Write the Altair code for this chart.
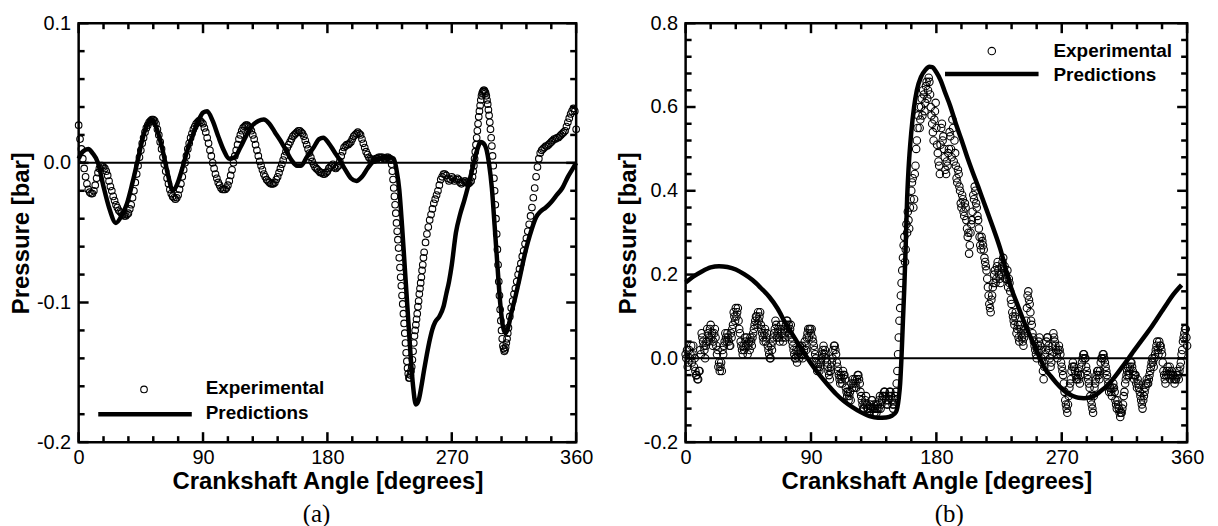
import altair as alt
import pandas as pd

# ---------------- data ----------------
# Panel (a): experimental, one reading per degree 0..360
ANG_A_EXP = list(range(0, 361))
P_A_EXP = [0.027, 0.017, 0.010, 0.003, -0.004, -0.010, -0.015, -0.019, -0.021, -0.022,
           -0.022, -0.020, -0.016, -0.011, -0.007, -0.004, -0.002, -0.002, -0.003, -0.004,
           -0.006, -0.009, -0.013, -0.017, -0.020, -0.024, -0.027, -0.030, -0.032, -0.034,
           -0.035, -0.036, -0.037, -0.038, -0.038, -0.037, -0.036, -0.033, -0.030, -0.025,
           -0.020, -0.014, -0.008, -0.002, 0.004, 0.009, 0.014, 0.018, 0.022, 0.025,
           0.027, 0.029, 0.030, 0.031, 0.031, 0.030, 0.028, 0.024, 0.020, 0.015,
           0.010, 0.004, -0.001, -0.006, -0.011, -0.015, -0.019, -0.022, -0.024, -0.025,
           -0.026, -0.025, -0.023, -0.019, -0.015, -0.010, -0.005, 0.000, 0.005, 0.010,
           0.014, 0.018, 0.021, 0.024, 0.026, 0.028, 0.029, 0.030, 0.030, 0.029,
           0.028, 0.025, 0.022, 0.018, 0.014, 0.009, 0.005, 0.000, -0.004, -0.008,
           -0.011, -0.014, -0.016, -0.018, -0.019, -0.019, -0.019, -0.018, -0.016, -0.013,
           -0.009, -0.005, 0.000, 0.005, 0.009, 0.013, 0.017, 0.020, 0.023, 0.025,
           0.026, 0.027, 0.027, 0.026, 0.025, 0.023, 0.020, 0.017, 0.013, 0.009,
           0.005, 0.001, -0.002, -0.005, -0.008, -0.010, -0.012, -0.013, -0.014, -0.015,
           -0.015, -0.015, -0.014, -0.012, -0.010, -0.007, -0.004, -0.001, 0.002, 0.005,
           0.008, 0.011, 0.013, 0.015, 0.017, 0.019, 0.020, 0.021, 0.022, 0.023,
           0.023, 0.022, 0.021, 0.019, 0.016, 0.013, 0.010, 0.007, 0.004, 0.001,
           -0.001, -0.003, -0.004, -0.005, -0.006, -0.007, -0.007, -0.008, -0.008, -0.007,
           -0.006, -0.004, -0.003, -0.002, -0.001, -0.003, -0.004, -0.003, -0.002, 0.001,
           0.005, 0.008, 0.011, 0.012, 0.013, 0.013, 0.014, 0.015, 0.017, 0.019,
           0.020, 0.021, 0.022, 0.021, 0.020, 0.017, 0.014, 0.011, 0.008, 0.006,
           0.004, 0.003, 0.002, 0.002, 0.002, 0.003, 0.003, 0.004, 0.004, 0.004,
           0.004, 0.003, 0.003, 0.004, 0.004, 0.003, 0.002, -0.006, -0.018, -0.030,
           -0.043, -0.055, -0.068, -0.082, -0.095, -0.108, -0.122, -0.136, -0.147, -0.154,
           -0.152, -0.146, -0.135, -0.124, -0.116, -0.108, -0.099, -0.090, -0.082, -0.073,
           -0.064, -0.057, -0.051, -0.046, -0.041, -0.037, -0.033, -0.029, -0.026, -0.023,
           -0.020, -0.016, -0.012, -0.010, -0.008, -0.008, -0.009, -0.011, -0.013, -0.012,
           -0.010, -0.011, -0.013, -0.012, -0.011, -0.012, -0.014, -0.015, -0.014, -0.013,
           -0.013, -0.014, -0.015, -0.014, -0.013, -0.010, -0.002, 0.008, 0.018, 0.028,
           0.037, 0.045, 0.050, 0.052, 0.051, 0.048, 0.042, 0.034, 0.024, 0.012,
           -0.002, -0.020, -0.040, -0.062, -0.085, -0.105, -0.120, -0.131, -0.135, -0.132,
           -0.126, -0.118, -0.110, -0.104, -0.099, -0.094, -0.090, -0.085, -0.080, -0.076,
           -0.072, -0.067, -0.063, -0.058, -0.054, -0.049, -0.044, -0.038, -0.032, -0.025,
           -0.018, -0.010, -0.003, 0.003, 0.007, 0.009, 0.010, 0.011, 0.012, 0.012,
           0.013, 0.014, 0.015, 0.016, 0.017, 0.017, 0.018, 0.018, 0.019, 0.020,
           0.021, 0.022, 0.023, 0.026, 0.029, 0.032, 0.035, 0.037, 0.039, 0.037,
           0.024]
# Panel (a): extra circles read on the steep flanks (half-degree positions)
ANG_A_EXP2 = [226.5, 227.5, 228.5, 229.5, 230.5, 231.5, 232.5, 233.5, 234.5, 235.5, 236.5,
              237.5, 238.5, 239.5, 240.5, 241.5, 242.5, 243.5, 244.5, 245.5, 246.5, 247.5,
              248.5, 249.5,
              285.5, 286.5, 287.5, 288.5, 289.5, 290.5, 291.5, 292.5, 293.5, 294.5, 295.5,
              296.5, 297.5, 298.5, 299.5, 300.5, 301.5, 302.5, 303.5, 304.5, 305.5, 306.5,
              307.5, 308.5, 309.5, 310.5]
P_A_EXP2 = [-0.001, -0.012, -0.024, -0.036, -0.049, -0.061, -0.075, -0.088, -0.101, -0.115,
            -0.129, -0.142, -0.151, -0.154, -0.149, -0.141, -0.129, -0.120, -0.112, -0.103,
            -0.094, -0.086, -0.077, -0.068,
            -0.006, 0.003, 0.013, 0.023, 0.033, 0.041, 0.048, 0.051, 0.052, 0.050, 0.045,
            0.038, 0.029, 0.018, 0.005, -0.011, -0.030, -0.051, -0.073, -0.095, -0.113,
            -0.126, -0.133, -0.134, -0.129, -0.122]

# Panel (a): predictions
ANG_A_PRED = [0, 3, 7, 10, 14, 18, 22, 27, 31, 35, 39, 43, 47, 50, 53, 57, 61, 65, 68, 71,
              75, 79, 83, 87, 90, 93, 97, 101, 105, 109, 113, 117, 121, 125, 130, 134, 138,
              142, 146, 150, 154, 158, 161, 165, 170, 174, 177, 181, 185, 189, 193, 197, 201,
              205, 209, 213, 217, 221, 225, 228, 230, 232, 234, 236, 238, 240, 242, 244, 246,
              248, 250, 252, 254, 256, 258, 261, 264, 266, 268, 270, 273, 276, 279, 282, 285,
              288, 291, 293, 295, 297, 299, 301, 303, 305, 307, 309, 311, 313, 316, 319, 322,
              325, 328, 331, 334, 338, 342, 346, 350, 354, 357, 360]
P_A_PRED = [0.003, 0.008, 0.010, 0.007, 0.000, -0.017, -0.032, -0.043, -0.038, -0.029,
            -0.014, 0.003, 0.020, 0.028, 0.031, 0.023, 0.008, -0.010, -0.020, -0.016,
            -0.004, 0.010, 0.021, 0.031, 0.036, 0.037, 0.030, 0.019, 0.009, 0.003,
            0.004, 0.011, 0.019, 0.026, 0.030, 0.031, 0.028, 0.022, 0.016, 0.009,
            0.002, -0.002, -0.002, 0.004, 0.011, 0.017, 0.018, 0.014, 0.008, 0.002,
            -0.005, -0.011, -0.013, -0.010, -0.004, 0.001, 0.003, 0.004, 0.004, 0.003,
            -0.005, -0.019, -0.045, -0.075, -0.105, -0.135, -0.160, -0.173, -0.170, -0.160,
            -0.148, -0.137, -0.127, -0.119, -0.114, -0.110, -0.103, -0.094, -0.085, -0.073,
            -0.050, -0.037, -0.027, -0.016, -0.004, 0.008, 0.015, 0.014, 0.010, -0.001,
            -0.018, -0.045, -0.073, -0.100, -0.117, -0.122, -0.117, -0.108, -0.096, -0.083,
            -0.069, -0.057, -0.047, -0.039, -0.035, -0.032, -0.028, -0.023, -0.018, -0.010,
            -0.005, 0.000]

# Panel (b): experimental, one reading per degree 0..360
ANG_B_EXP = list(range(0, 361))
P_B_EXP = [0.01, 0.02, -0.01, 0.00, 0.03, 0.01, -0.02, -0.03, -0.04, -0.05,
           -0.03, 0.01, 0.05, 0.03, 0.00, 0.04, 0.06, 0.05, 0.08, 0.06,
           0.04, 0.07, 0.03, 0.02, -0.01, -0.02, -0.03, 0.01, 0.04, 0.05,
           0.06, 0.04, 0.03, 0.05, 0.08, 0.10, 0.12, 0.11, 0.09, 0.06,
           0.03, 0.01, 0.02, 0.04, 0.05, 0.03, 0.02, 0.04, 0.05, 0.07,
           0.09, 0.10, 0.11, 0.10, 0.08, 0.06, 0.04, 0.07, 0.05, 0.03,
           0.01, 0.00, 0.02, 0.05, 0.07, 0.08, 0.06, 0.05, 0.07, 0.06,
           0.04, 0.06, 0.08, 0.09, 0.08, 0.07, 0.05, 0.03, 0.01, 0.00,
           -0.01, 0.02, 0.03, 0.01, 0.00, 0.02, 0.03, 0.05, 0.07, 0.07,
           0.06, 0.05, 0.03, 0.01, -0.01, -0.02, -0.03, -0.01, 0.01, 0.03,
           0.02, 0.00, -0.02, -0.04, -0.03, -0.01, 0.02, 0.03, 0.01, -0.02,
           -0.04, -0.06, -0.05, -0.03, -0.04, -0.07, -0.09, -0.10, -0.08, -0.06,
           -0.05, -0.07, -0.06, -0.05, -0.04, -0.06, -0.09, -0.11, -0.12, -0.10,
           -0.11, -0.12, -0.13, -0.12, -0.10, -0.11, -0.12, -0.13, -0.11, -0.10,
           -0.12, -0.10, -0.09, -0.08, -0.10, -0.11, -0.09, -0.08, -0.10, -0.12,
           -0.10, -0.08, -0.03, 0.05, 0.12, 0.18, 0.24, 0.29, 0.26, 0.30,
           0.33, 0.36, 0.40, 0.43, 0.38, 0.46, 0.52, 0.58, 0.55, 0.60,
           0.58, 0.63, 0.61, 0.66, 0.64, 0.66, 0.60, 0.56, 0.52, 0.59,
           0.55, 0.49, 0.46, 0.51, 0.56, 0.53, 0.48, 0.44, 0.46, 0.50,
           0.53, 0.48, 0.55, 0.52, 0.46, 0.42, 0.44, 0.40, 0.36, 0.38,
           0.34, 0.36, 0.31, 0.30, 0.27, 0.32, 0.35, 0.38, 0.40, 0.36,
           0.33, 0.29, 0.26, 0.28, 0.26, 0.23, 0.21, 0.17, 0.13, 0.11,
           0.15, 0.18, 0.21, 0.19, 0.23, 0.20, 0.18, 0.22, 0.24, 0.22,
           0.20, 0.21, 0.19, 0.16, 0.13, 0.10, 0.08, 0.11, 0.07, 0.05,
           0.08, 0.06, 0.04, 0.05, 0.07, 0.12, 0.16, 0.13, 0.09, 0.06,
           0.04, 0.02, 0.00, 0.03, 0.05, 0.02, -0.01, -0.05, 0.01, 0.04,
           0.05, 0.02, -0.02, 0.01, 0.06, 0.04, 0.02, 0.00, 0.03, 0.01,
           -0.02, -0.04, -0.08, -0.11, -0.13, -0.09, -0.06, -0.03, -0.01, -0.02,
           -0.04, -0.05, -0.03, -0.06, -0.02, 0.00, 0.01, 0.00, -0.03, -0.05,
           -0.07, -0.10, -0.12, -0.09, -0.06, -0.04, -0.03, -0.05, -0.01, 0.00,
           0.01, -0.01, -0.03, -0.05, -0.08, -0.07, -0.09, -0.06, -0.08, -0.11,
           -0.10, -0.12, -0.14, -0.13, -0.11, -0.08, -0.05, -0.03, -0.04, -0.02,
           -0.01, -0.03, -0.05, -0.04, -0.07, -0.06, -0.08, -0.10, -0.12, -0.09,
           -0.07, -0.05, -0.06, -0.04, -0.02, 0.00, -0.02, 0.01, 0.03, 0.02,
           0.04, 0.03, 0.01, -0.03, -0.05, -0.04, -0.02, -0.03, -0.05, -0.03,
           -0.04, -0.06, -0.05, -0.03, -0.05, -0.02, 0.01, 0.04, 0.06, 0.07,
           0.03]
# Panel (b): second set of circles, half-degree positions 0.5..359.5
ANG_B_EXP2 = [i + 0.5 for i in range(360)]
P_B_EXP2 = [0.00, -0.02, 0.02, 0.01, -0.01, 0.03, 0.00, -0.04, -0.05, -0.03,
            0.02, 0.06, 0.04, 0.02, 0.03, 0.07, 0.04, 0.07, 0.05, 0.03,
            0.06, 0.05, 0.01, -0.02, -0.03, -0.01, 0.02, 0.03, 0.06, 0.04,
            0.05, 0.03, 0.06, 0.07, 0.11, 0.09, 0.10, 0.12, 0.07, 0.04,
            0.02, 0.03, 0.05, 0.03, 0.01, 0.04, 0.05, 0.03, 0.06, 0.08,
            0.10, 0.08, 0.09, 0.11, 0.07, 0.05, 0.06, 0.04, 0.06, 0.02,
            0.00, 0.03, 0.04, 0.06, 0.09, 0.05, 0.07, 0.04, 0.08, 0.05,
            0.07, 0.05, 0.09, 0.07, 0.06, 0.08, 0.04, 0.02, 0.00, 0.02,
            0.01, 0.00, 0.02, 0.03, 0.01, 0.04, 0.02, 0.06, 0.05, 0.07,
            0.07, 0.04, 0.02, 0.00, -0.03, -0.01, -0.02, 0.00, 0.02, 0.01,
            0.01, -0.01, -0.03, -0.05, -0.02, 0.00, 0.03, 0.02, -0.01, -0.03,
            -0.05, -0.04, -0.06, -0.04, -0.05, -0.08, -0.08, -0.09, -0.10, -0.07,
            -0.06, -0.05, -0.07, -0.04, -0.05, -0.08, -0.10, -0.12, -0.11, -0.09,
            -0.12, -0.13, -0.11, -0.10, -0.12, -0.13, -0.11, -0.12, -0.12, -0.09,
            -0.11, -0.09, -0.08, -0.09, -0.11, -0.10, -0.08, -0.09, -0.11, -0.11,
            -0.09, -0.06, 0.01, 0.09, 0.15, 0.21, 0.27, 0.23, 0.32, 0.35,
            0.31, 0.38, 0.42, 0.36, 0.44, 0.50, 0.55, 0.60, 0.57, 0.62,
            0.64, 0.59, 0.65, 0.62, 0.67, 0.63, 0.58, 0.54, 0.57, 0.61,
            0.51, 0.47, 0.44, 0.55, 0.52, 0.50, 0.45, 0.47, 0.49, 0.54,
            0.50, 0.57, 0.47, 0.49, 0.43, 0.45, 0.41, 0.37, 0.39, 0.35,
            0.37, 0.33, 0.29, 0.25, 0.30, 0.33, 0.39, 0.41, 0.37, 0.34,
            0.31, 0.27, 0.29, 0.27, 0.24, 0.22, 0.19, 0.15, 0.12, 0.14,
            0.17, 0.20, 0.18, 0.22, 0.21, 0.19, 0.20, 0.23, 0.21, 0.19,
            0.19, 0.17, 0.18, 0.14, 0.11, 0.09, 0.10, 0.06, 0.08, 0.04,
            0.07, 0.05, 0.03, 0.06, 0.09, 0.15, 0.14, 0.11, 0.08, 0.05,
            0.03, 0.01, 0.02, 0.04, 0.03, 0.00, -0.03, -0.02, 0.02, 0.05,
            0.03, 0.00, -0.01, 0.03, 0.05, 0.03, 0.01, 0.02, 0.02, -0.01,
            -0.03, -0.06, -0.10, -0.12, -0.11, -0.07, -0.05, -0.02, -0.02, -0.03,
            -0.05, -0.04, -0.05, -0.04, -0.01, 0.01, 0.00, -0.02, -0.04, -0.06,
            -0.09, -0.11, -0.13, -0.07, -0.05, -0.03, -0.04, -0.03, 0.00, 0.01,
            0.00, -0.02, -0.04, -0.06, -0.07, -0.08, -0.07, -0.07, -0.10, -0.12,
            -0.11, -0.13, -0.13, -0.12, -0.09, -0.06, -0.04, -0.02, -0.03, -0.01,
            -0.02, -0.04, -0.04, -0.06, -0.05, -0.07, -0.09, -0.11, -0.10, -0.08,
            -0.06, -0.06, -0.05, -0.03, -0.01, -0.01, 0.00, 0.02, 0.04, 0.01,
            0.03, 0.02, -0.01, -0.04, -0.06, -0.03, -0.04, -0.02, -0.04, -0.04,
            -0.05, -0.05, -0.04, -0.04, -0.03, -0.01, 0.02, 0.05, 0.07, 0.05]

# Panel (b): predictions
ANG_B_PRED = [0, 6, 12, 18, 24, 30, 36, 42, 48, 54, 60, 66, 72, 78, 84, 90, 96, 102, 108,
              114, 120, 126, 132, 138, 144, 148, 151, 153, 154, 155, 156, 157, 158, 159, 160,
              162, 164, 166, 169, 172, 175, 177, 180, 183, 186, 190, 194, 198, 202, 206, 210,
              214, 218, 222, 226, 230, 234, 238, 242, 246, 250, 254, 258, 262, 266, 270, 274,
              278, 282, 286, 290, 294, 298, 302, 306, 310, 314, 318, 322, 326, 330, 334, 338,
              342, 346, 350, 354, 356]
P_B_PRED = [0.181, 0.196, 0.208, 0.217, 0.220, 0.218, 0.212, 0.201, 0.187, 0.168,
            0.147, 0.119, 0.082, 0.050, 0.018, -0.012, -0.039, -0.063, -0.085, -0.103,
            -0.117, -0.129, -0.138, -0.142, -0.141, -0.137, -0.128, -0.095, -0.060, 0.005,
            0.090, 0.170, 0.270, 0.380, 0.450, 0.540, 0.600, 0.640, 0.672, 0.688,
            0.696, 0.695, 0.683, 0.664, 0.637, 0.602, 0.560, 0.522, 0.482, 0.445,
            0.410, 0.373, 0.337, 0.300, 0.260, 0.210, 0.165, 0.130, 0.095, 0.063,
            0.033, 0.003, -0.025, -0.042, -0.058, -0.072, -0.083, -0.090, -0.094, -0.095,
            -0.093, -0.088, -0.078, -0.067, -0.053, -0.036, -0.018, 0.000, 0.019, 0.037,
            0.055, 0.073, 0.093, 0.113, 0.133, 0.152, 0.168, 0.175]

# Axes ticks
X_MAJOR = [0, 90, 180, 270, 360]
X_MINOR = [18, 36, 54, 72, 108, 126, 144, 162, 198, 216, 234, 252, 288, 306, 324, 342]
YA_MAJOR = [-0.2, -0.1, 0.0, 0.1]
YA_MINOR = [-0.18, -0.16, -0.14, -0.12, -0.08, -0.06, -0.04, -0.02, 0.02, 0.04, 0.06, 0.08]
YB_MAJOR = [-0.2, 0.0, 0.2, 0.4, 0.6, 0.8]
YB_MINOR = [-0.16, -0.12, -0.08, -0.04, 0.04, 0.08, 0.12, 0.16, 0.24, 0.28, 0.32, 0.36,
            0.44, 0.48, 0.52, 0.56, 0.64, 0.68, 0.72, 0.76]

LEGEND_LABELS = ["Experimental", "Predictions"]
X_TITLE = "Crankshaft Angle [degrees]"
Y_TITLE = "Pressure [bar]"
CAPTIONS = ["(a)", "(b)"]

SANS = "Liberation Sans"
SERIF = "Liberation Serif"
H = 421
LABEL_EXPR = "datum.value < 0 ? '-' + format(-datum.value, '.1f') : format(datum.value, '.1f')"


def make_panel(w, ang_exp, p_exp, ang_pred, p_pred, ydom, ymaj, ymin, pt_size,
               leg, caption, cap_dx):
    xs = alt.Scale(domain=[0, 360], nice=False, zero=False)
    ys = alt.Scale(domain=ydom, nice=False, zero=False)

    x_axis = alt.Axis(values=X_MAJOR, format="d", title=X_TITLE, grid=False, ticks=False,
                      domain=False, labelPadding=5, titlePadding=3, labelFlush=False,
                      labelOverlap=False, labelFont=SANS, labelFontSize=20,
                      labelColor="black", titleFont=SANS, titleFontSize=24,
                      titleFontWeight="bold", titleColor="black")
    y_axis = alt.Axis(values=ymaj, labelExpr=LABEL_EXPR, title=Y_TITLE, grid=False,
                      ticks=False, domain=False, labelPadding=8, titlePadding=3,
                      labelFlush=False, labelOverlap=False, labelFont=SANS,
                      labelFontSize=20, labelColor="black", titleFont=SANS,
                      titleFontSize=24, titleFontWeight="bold", titleColor="black")

    X = lambda f: alt.X(f, scale=xs, axis=x_axis)
    Y = lambda f: alt.Y(f, scale=ys, axis=y_axis)

    exp_df = pd.DataFrame({"angle": ang_exp, "p": p_exp})
    pred_df = pd.DataFrame({"angle": ang_pred, "p": p_pred})

    pts = alt.Chart(exp_df).mark_point(shape="circle", filled=False, color="black",
                                       opacity=1, size=pt_size, strokeWidth=1.1).encode(
        x=X("angle:Q"), y=Y("p:Q"))
    line = alt.Chart(pred_df).mark_line(color="black", strokeWidth=4.5,
                                        interpolate="monotone").encode(
        x=X("angle:Q"), y=Y("p:Q"))
    zero = alt.Chart(pd.DataFrame({"p": [0.0]})).mark_rule(color="black", strokeWidth=2).encode(
        y=Y("p:Q"), x=alt.value(0), x2=alt.value(w))

    layers = [zero, pts, line]
    # inward ticks
    for vals, ln in ((X_MAJOR, 10), (X_MINOR, 6)):
        df = pd.DataFrame({"angle": vals})
        layers.append(alt.Chart(df).mark_rule(color="black", strokeWidth=2.5).encode(
            x=X("angle:Q"), y=alt.value(H), y2=alt.value(H - ln)))
        layers.append(alt.Chart(df).mark_rule(color="black", strokeWidth=2.5).encode(
            x=X("angle:Q"), y=alt.value(0), y2=alt.value(ln)))
    for vals, ln in ((ymaj, 10), (ymin, 6)):
        df = pd.DataFrame({"p": vals})
        layers.append(alt.Chart(df).mark_rule(color="black", strokeWidth=2.5).encode(
            y=Y("p:Q"), x=alt.value(0), x2=alt.value(ln)))
        layers.append(alt.Chart(df).mark_rule(color="black", strokeWidth=2.5).encode(
            y=Y("p:Q"), x=alt.value(w), x2=alt.value(w - ln)))

    # legend and caption
    (cx, cy), (lx1, lx2, ly), (tx, ty1, ty2) = leg
    one = pd.DataFrame({"e": [LEGEND_LABELS[0]], "q": [LEGEND_LABELS[1]], "c": [caption]})
    layers.append(alt.Chart(one).mark_point(shape="circle", filled=False, color="black",
                                            opacity=1, size=pt_size, strokeWidth=1.1).encode(
        x=alt.value(cx), y=alt.value(cy)))
    layers.append(alt.Chart(one).mark_rule(color="black", strokeWidth=4.5).encode(
        x=alt.value(lx1), x2=alt.value(lx2), y=alt.value(ly)))
    layers.append(alt.Chart(one).mark_text(align="left", baseline="middle", font=SANS,
                                           fontSize=19, fontWeight="bold", color="black").encode(
        text="e:N", x=alt.value(tx), y=alt.value(ty1)))
    layers.append(alt.Chart(one).mark_text(align="left", baseline="middle", font=SANS,
                                           fontSize=19, fontWeight="bold", color="black").encode(
        text="q:N", x=alt.value(tx), y=alt.value(ty2)))
    layers.append(alt.Chart(one).mark_text(align="center", baseline="alphabetic", font=SERIF,
                                           fontSize=25, color="black").encode(
        text="c:N", x=alt.value(w / 2 + cap_dx), y=alt.value(501)))

    return alt.layer(*layers).properties(width=w, height=H)


pa = make_panel(500, ANG_A_EXP + ANG_A_EXP2, P_A_EXP + P_A_EXP2, ANG_A_PRED, P_A_PRED,
                [-0.2, 0.1], YA_MAJOR, YA_MINOR, 44,
                ((65.7, 368), (19.7, 113.7, 393), (127.7, 367, 392)), CAPTIONS[0], -11)
pb = make_panel(504, ANG_B_EXP + ANG_B_EXP2, P_B_EXP + P_B_EXP2, ANG_B_PRED, P_B_PRED,
                [-0.2, 0.8], YB_MAJOR, YB_MINOR, 56,
                ((307.7, 28), (260.7, 354.7, 51), (369.7, 28, 52)), CAPTIONS[1], 13)

chart = alt.hconcat(pa, pb, spacing=110, bounds="flush").configure_view(
    stroke="black", strokeWidth=2.5
).properties(padding={"left": 0, "top": 2, "right": 5, "bottom": 0}, background="white")

chart.save("out.html", embed_options={"renderer": "svg", "actions": False})
